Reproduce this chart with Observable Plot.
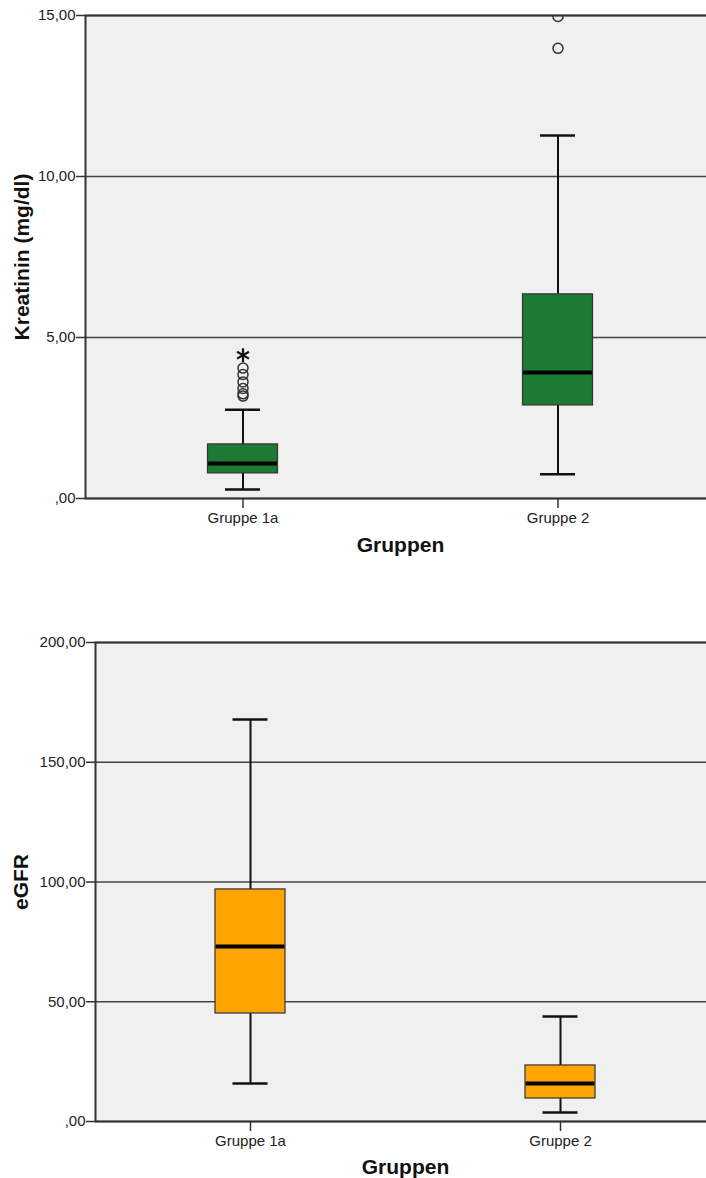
<!DOCTYPE html>
<html><head><meta charset="utf-8">
<script src="https://cdn.jsdelivr.net/npm/d3@7"></script>
<script src="https://cdn.jsdelivr.net/npm/@observablehq/plot@0.6"></script>
<style>body{margin:0;background:#fff;} svg{display:block;}</style>
</head><body><div id="c"></div>
<script>
const groups = ["Gruppe 1a", "Gruppe 2"];

// Kreatinin (mg/dl)
const kreaLow  = [0.28, 0.75];
const kreaQ1   = [0.78, 2.89];
const kreaMed  = [1.09, 3.91];
const kreaQ3   = [1.68, 6.34];
const kreaHigh = [2.76, 11.27];
const kreaOutGroup = ["Gruppe 1a", "Gruppe 1a", "Gruppe 1a", "Gruppe 1a", "Gruppe 1a", "Gruppe 1a", "Gruppe 2", "Gruppe 2"];
const kreaOutValue = [4.05, 3.85, 3.62, 3.42, 3.25, 3.18, 13.98, 14.97];
const kreaExtGroup = ["Gruppe 1a"];
const kreaExtValue = [4.45];
const kreaTicks = [0, 5, 10, 15];

// eGFR
const egfrLow  = [15.9, 3.8];
const egfrQ1   = [45.1, 9.6];
const egfrMed  = [73.1, 15.9];
const egfrQ3   = [96.9, 23.4];
const egfrHigh = [167.8, 43.8];
const egfrTicks = [0, 50, 100, 150, 200];

const fmt = d => d === 0 ? ",00" : d.toFixed(2).replace(".", ",");

function chart(cfg) {
  const stats = groups.map((g, i) => ({g, low: cfg.low[i], q1: cfg.q1[i], med: cfg.med[i], q3: cfg.q3[i], high: cfg.high[i]}));
  const outs = (cfg.outG || []).map((g, i) => ({g, v: cfg.outV[i]}));
  const exts = (cfg.extG || []).map((g, i) => ({g, v: cfg.extV[i]}));
  const band = (706 - cfg.mr - cfg.ml) / 2;
  const boxInset = (band - 70) / 2;
  const capInset = (band - 35) / 2;
  return Plot.plot({
    width: 706, height: cfg.height,
    marginLeft: cfg.ml, marginRight: cfg.mr, marginTop: cfg.mt, marginBottom: cfg.mb,
    style: {fontFamily: "'Liberation Sans', Arial, sans-serif", fontSize: "15px", color: "#222", background: "white"},
    x: {type: "band", domain: groups, padding: 0},
    y: {domain: [0, cfg.ymax]},
    marks: [
      Plot.frame({fill: "#f0f0f0", stroke: "none"}),
      Plot.ruleY(cfg.ticks, {stroke: "#444", strokeWidth: 1.5}),
      Plot.ruleX(stats, {x: "g", y1: "low", y2: "q1", stroke: "#111", strokeWidth: 2}),
      Plot.ruleX(stats, {x: "g", y1: "q3", y2: "high", stroke: "#111", strokeWidth: 2}),
      Plot.tickY(stats, {x: "g", y: "low", stroke: "#111", strokeWidth: 2.5, insetLeft: capInset, insetRight: capInset}),
      Plot.tickY(stats, {x: "g", y: "high", stroke: "#111", strokeWidth: 2.5, insetLeft: capInset, insetRight: capInset}),
      Plot.barY(stats, {x: "g", y1: "q1", y2: "q3", fill: cfg.color, stroke: "#333", strokeWidth: 1.2, insetLeft: boxInset, insetRight: boxInset}),
      Plot.tickY(stats, {x: "g", y: "med", stroke: "#000", strokeWidth: 4, insetLeft: boxInset + 0.6, insetRight: boxInset + 0.6}),
      Plot.dot(outs, {x: "g", y: "v", r: 5, stroke: "#333", strokeWidth: 1.5, fill: "none", clip: true}),
      Plot.dot(exts, {x: "g", y: "v", r: 6.5, symbol: "asterisk", stroke: "#111", strokeWidth: 2.2, clip: true}),
      Plot.frame({stroke: "#333", strokeWidth: 2}),
      Plot.axisY({ticks: cfg.ticks, tickFormat: fmt, tickSize: 9, tickPadding: 1, label: null, fontSize: 15, stroke: "#333", strokeWidth: 1.5}),
      Plot.axisX({tickSize: 10, tickPadding: 4, label: null, fontSize: 15, stroke: "#333", strokeWidth: 1.5}),
      Plot.text([cfg.ylabel], {text: d => d, frameAnchor: "left", textAnchor: "middle", dx: cfg.ylabelDx, rotate: -90, fontWeight: "bold", fontSize: 21, fill: "#111"}),
      Plot.text(["Gruppen"], {text: d => d, frameAnchor: "bottom", dy: cfg.xlabelDy, lineAnchor: "middle", fontWeight: "bold", fontSize: 21, fill: "#111"})
    ]
  });
}

const c = document.getElementById("c");
c.appendChild(chart({
  height: 600, ml: 85, mr: -9, mt: 15, mb: 102, ymax: 15, ticks: kreaTicks, color: "#1c7a32",
  low: kreaLow, q1: kreaQ1, med: kreaMed, q3: kreaQ3, high: kreaHigh,
  outG: kreaOutGroup, outV: kreaOutValue, extG: kreaExtGroup, extV: kreaExtValue,
  ylabel: "Kreatinin (mg/dl)", ylabelDx: -63, xlabelDy: 47
}));
c.appendChild(chart({
  height: 578, ml: 95, mr: -9, mt: 42, mb: 57, ymax: 200, ticks: egfrTicks, color: "#ffa500",
  low: egfrLow, q1: egfrQ1, med: egfrMed, q3: egfrQ3, high: egfrHigh,
  ylabel: "eGFR", ylabelDx: -74, xlabelDy: 46
}));
</script>
</body></html>
